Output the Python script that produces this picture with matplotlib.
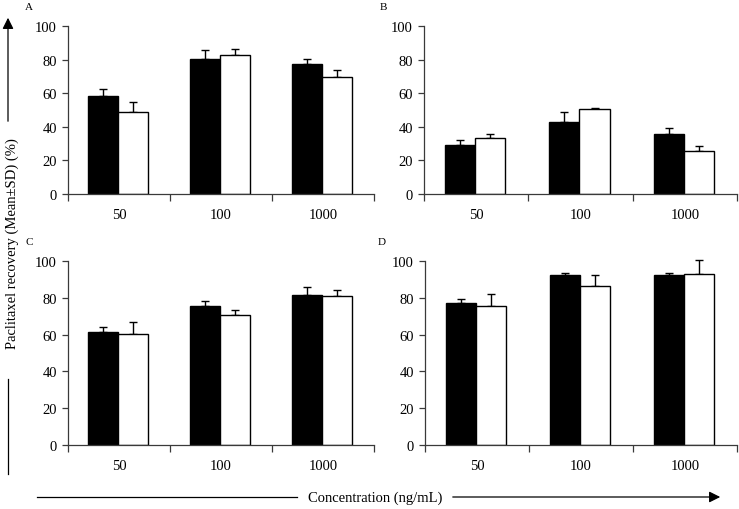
import numpy as np
import matplotlib
matplotlib.use('Agg')
import matplotlib.pyplot as plt
from matplotlib.lines import Line2D
from matplotlib.patches import FancyArrowPatch

plt.rcParams['font.family'] = ['Liberation Serif', 'DejaVu Serif']

# concentrations (ng/mL)
groups = ['50', '100', '1000']

# recovery (%), black / white bars and upper SD
a_black = [58.4, 80.2, 77.4]
a_black_sd = [4.0, 5.3, 3.2]
a_white = [49.1, 82.6, 69.9]
a_white_sd = [5.8, 3.7, 4.0]

b_black = [29.4, 42.7, 36.0]
b_black_sd = [3.0, 6.2, 3.2]
b_white = [33.4, 50.3, 25.8]
b_white_sd = [2.4, 1.0, 3.0]

c_black = [61.6, 75.8, 81.5]
c_black_sd = [2.4, 2.4, 4.1]
c_white = [60.5, 70.7, 81.1]
c_white_sd = [6.2, 2.4, 2.9]

d_black = [77.3, 92.2, 92.2]
d_black_sd = [1.8, 1.4, 1.3]
d_white = [75.8, 86.4, 93.1]
d_white_sd = [6.2, 6.0, 7.3]

panels = [
    ('A', a_black, a_black_sd, a_white, a_white_sd),
    ('B', b_black, b_black_sd, b_white, b_white_sd),
    ('C', c_black, c_black_sd, c_white, c_white_sd),
    ('D', d_black, d_black_sd, d_white, d_white_sd),
]

W, H = 739, 510
fig = plt.figure(figsize=(W / 100, H / 100), dpi=100)


def fx(px):
    return px / W


def fy(py):
    return 1 - py / H


# axes boxes in pixels: left, top(100), right, bottom(0)
boxes = {
    'A': (68, 27, 374, 195),
    'B': (424, 27, 737, 195),
    'C': (68, 262, 374, 446),
    'D': (425, 262, 737, 446),
}
label_pos = {'A': (29, 8), 'B': (383, 8), 'C': (29, 243), 'D': (382, 243)}

spine_col = '#3a3a3a'
bw = 0.29
for name, blk, blk_sd, wht, wht_sd in panels:
    l, t, r, b = boxes[name]
    ax = fig.add_axes([fx(l), fy(b), fx(r - l), (b - t) / H])
    x = np.arange(len(groups)) + 0.49
    ax.bar(x - bw / 2, blk, bw, color='black', edgecolor='black', linewidth=1.0, zorder=2)
    ax.bar(x + bw / 2, wht, bw, color='white', edgecolor='black', linewidth=1.0, zorder=2)
    for xs, ys, sd in [(x - bw / 2, blk, blk_sd), (x + bw / 2, wht, wht_sd)]:
        eb = ax.errorbar(xs, ys, yerr=[np.zeros(3), sd], fmt='none',
                         ecolor='black', elinewidth=1.0, capsize=2.6, capthick=1.0, zorder=1)
        for art in eb.lines[1] + eb.lines[2]:
            art.set_clip_on(False)

    ax.set_xlim(0, 3)
    ax.set_ylim(0, 100)
    ax.set_yticks([0, 20, 40, 60, 80, 100])
    ax.set_xticks([0, 1, 2, 3])
    ax.set_xticklabels([])
    ax.set_xticks(np.arange(3) + 0.5, minor=True)
    ax.set_xticklabels(groups, minor=True, fontsize=10.5)
    ax.tick_params(axis='x', which='major', length=5, width=0.9, color=spine_col)
    ax.tick_params(axis='x', which='minor', length=0, pad=10)
    ax.tick_params(axis='y', length=4, width=0.9, color=spine_col, pad=4, labelsize=10.5)
    for s in ['top', 'right']:
        ax.spines[s].set_visible(False)
    for s in ['left', 'bottom']:
        ax.spines[s].set_color(spine_col)
        ax.spines[s].set_linewidth(0.9)
    ax.set_facecolor('none')
    fig.text(fx(label_pos[name][0]), fy(label_pos[name][1]), name,
             ha='center', va='center', fontsize=8)

# shared y label with arrow
fig.text(fx(12), fy(244), 'Paclitaxel recovery (Mean\u00b1SD) (%)', rotation=90,
         ha='center', va='center', fontsize=10.5)
fig.add_artist(FancyArrowPatch((fx(8), fy(125)), (fx(8), fy(16)), transform=fig.transFigure,
                               arrowstyle='-|>,head_length=0.6,head_width=0.3',
                               mutation_scale=11, color='black', lw=0.9))
fig.add_artist(Line2D([fx(8), fx(8)], [fy(380), fy(475)], transform=fig.transFigure,
                      color='black', lw=0.9))

# shared x label with arrow
fig.text(fx(375), fy(498), 'Concentration (ng/mL)', ha='center', va='center', fontsize=10.5)
fig.add_artist(Line2D([fx(37), fx(297)], [fy(498), fy(498)], transform=fig.transFigure,
                      color='black', lw=0.9))
fig.add_artist(FancyArrowPatch((fx(450), fy(498)), (fx(723), fy(498)), transform=fig.transFigure,
                               arrowstyle='-|>,head_length=0.6,head_width=0.3',
                               mutation_scale=11, color='black', lw=0.9))

fig.savefig('out.png', dpi=100)
